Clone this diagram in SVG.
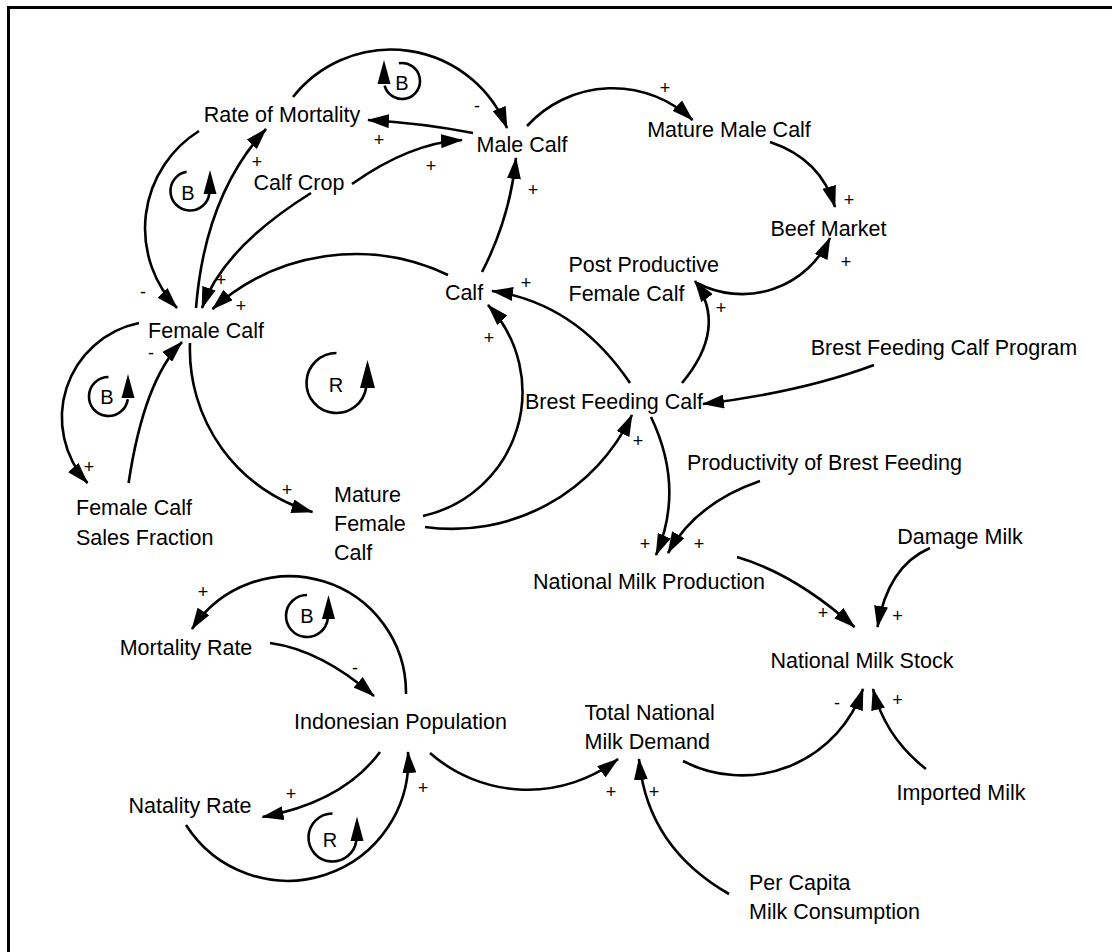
<svg xmlns="http://www.w3.org/2000/svg" width="1112" height="952" viewBox="0 0 1112 952">
<style>
.n{font-family:"Liberation Sans",Arial,sans-serif;font-size:21.5px;fill:#000}
.m{text-anchor:middle}
.p{font-family:"Liberation Sans",Arial,sans-serif;font-size:18px;fill:#000;text-anchor:middle}
.l{font-family:"Liberation Sans",Arial,sans-serif;font-size:20px;fill:#000;text-anchor:middle}
.c path{fill:none;stroke:#000;stroke-width:2.6;marker-end:url(#ah)}
.loop path{fill:none;stroke:#000;stroke-width:2.6}
.loop polygon{fill:#000}
</style>
<defs>
<marker id="ah" markerUnits="userSpaceOnUse" markerWidth="24" markerHeight="14" refX="21" refY="7" orient="auto">
<path d="M0,0 L22,7 L0,14 z" fill="#000"/>
</marker>
</defs>
<rect x="0" y="0" width="1112" height="952" fill="#fff"/>
<path d="M8.5,952 V7.5 H1112" fill="none" stroke="#000" stroke-width="3"/>

<g id="connectors" class="c">
<path d="M293,97 A125,125 0 0,1 507,128"/>
<path d="M473,133 Q421,123 368,120"/>
<path d="M352,184 Q410,143 462,140"/>
<path d="M527,126 A116,116 0 0,1 692.5,120"/>
<path d="M770,142 Q821,159 835,207"/>
<path d="M697,283 A97,97 0 0,0 830,238"/>
<path d="M682,383 Q728,328 695,281"/>
<path d="M874,365 Q802,392 703,404"/>
<path d="M630,383 Q576,303 492,291"/>
<path d="M423,516 A127,127 0 0,0 488,305"/>
<path d="M425,527 A199,199 0 0,0 632,415"/>
<path d="M482,272 Q510,218 516,158"/>
<path d="M448,275 A214,214 0 0,0 212.5,309"/>
<path d="M196,308 Q205,195 266,129"/>
<path d="M199,131 A115,115 0 0,0 177,308"/>
<path d="M311,193 Q223,248 202,308"/>
<path d="M139,323 A96.5,96.5 0 0,0 87.5,483"/>
<path d="M128.6,483 Q144,380 182,342"/>
<path d="M190,343 A169,169 0 0,0 312.5,512"/>
<path d="M651,417 Q685,488 656,555"/>
<path d="M760,481 Q696,503 668,553"/>
<path d="M737,557 Q795,574 854.5,627"/>
<path d="M930,548 Q888,566 877.5,627"/>
<path d="M683,761 A128,128 0 0,0 863,689"/>
<path d="M926,769 Q885,737 873,689"/>
<path d="M430,753 A148,148 0 0,0 618,759"/>
<path d="M729,894 Q647,847 639,759"/>
<path d="M406,694 A116.5,116.5 0 0,0 192,629"/>
<path d="M270,643 Q321,650 374,696"/>
<path d="M380,752 Q343,802 262.5,817"/>
<path d="M186,825 A120.6,120.6 0 0,0 408,752"/>
</g>

<g id="polarities">
<text class="p" x="477" y="112">-</text>
<text class="p" x="379" y="145.5">+</text>
<text class="p" x="431" y="171.5">+</text>
<text class="p" x="257" y="168">+</text>
<text class="p" x="665" y="93.5">+</text>
<text class="p" x="849" y="206">+</text>
<text class="p" x="846" y="268">+</text>
<text class="p" x="721" y="314">+</text>
<text class="p" x="526" y="289">+</text>
<text class="p" x="533" y="196">+</text>
<text class="p" x="489" y="344">+</text>
<text class="p" x="638" y="447">+</text>
<text class="p" x="143" y="298">-</text>
<text class="p" x="221" y="286">+</text>
<text class="p" x="241" y="311.5">+</text>
<text class="p" x="89" y="473">+</text>
<text class="p" x="151" y="359">-</text>
<text class="p" x="287" y="496">+</text>
<text class="p" x="645" y="550">+</text>
<text class="p" x="699" y="550">+</text>
<text class="p" x="823" y="619">+</text>
<text class="p" x="897.5" y="621.5">+</text>
<text class="p" x="837" y="709">-</text>
<text class="p" x="897.5" y="706">+</text>
<text class="p" x="611" y="798">+</text>
<text class="p" x="654" y="798">+</text>
<text class="p" x="203" y="598">+</text>
<text class="p" x="355" y="673.5">-</text>
<text class="p" x="291" y="800">+</text>
<text class="p" x="423" y="794">+</text>
</g>

<g id="loops" class="loop">
<g id="loop-b1"><path d="M398.9,63.3 A18,18 0 1,1 384.6,85.7"/><polygon points="384,60 377.5,84 390.5,84"/><text class="l" x="402" y="90">B</text></g>
<g id="loop-b2"><path d="M186.6,171.8 A19.5,19.5 0 1,0 209.3,193.7"/><polygon points="210,170 203.5,194 216.5,194"/><text class="l" x="188" y="200">B</text></g>
<g id="loop-b3"><path d="M108.5,377 A19.5,19.5 0 1,0 127.8,399.2"/><polygon points="128,374 121.5,398 134.5,398"/><text class="l" x="107" y="404">B</text></g>
<g id="loop-r1"><path d="M336.5,353 A30,30 0 1,0 366.2,387.2"/><polygon points="367.5,360 360,388 375,388"/><text class="l" x="336" y="392">R</text></g>
<g id="loop-b4"><path d="M307,595 A21,21 0 1,0 327.8,619"/><polygon points="328.5,595 322,619 335,619"/><text class="l" x="307" y="623">B</text></g>
<g id="loop-r2"><path d="M332.5,813.5 A24,24 0 1,0 356.3,840.8"/><polygon points="357,816.5 350.5,841 363.5,841"/><text class="l" x="330" y="846.5">R</text></g>
</g>

<g id="node-rate-of-mortality"><text class="n m" x="282" y="122">Rate of Mortality</text></g>
<g id="node-male-calf"><text class="n m" x="522" y="152">Male Calf</text></g>
<g id="node-calf-crop"><text class="n m" x="299" y="190">Calf Crop</text></g>
<g id="node-mature-male-calf"><text class="n m" x="729" y="137">Mature Male Calf</text></g>
<g id="node-beef-market"><text class="n m" x="828.5" y="236">Beef Market</text></g>
<g id="node-post-productive"><text class="n" x="568.5" y="272">Post Productive</text><text class="n" x="568.5" y="301">Female Calf</text></g>
<g id="node-calf"><text class="n m" x="464" y="300">Calf</text></g>
<g id="node-female-calf"><text class="n m" x="206" y="338">Female Calf</text></g>
<g id="node-sales-fraction"><text class="n" x="76" y="515">Female Calf</text><text class="n" x="76" y="545">Sales Fraction</text></g>
<g id="node-mature-female-calf"><text class="n" x="334" y="501.5">Mature</text><text class="n" x="334" y="531">Female</text><text class="n" x="334" y="560">Calf</text></g>
<g id="node-brest-feeding-calf"><text class="n m" x="614" y="409">Brest Feeding Calf</text></g>
<g id="node-bfc-program"><text class="n m" x="944" y="355">Brest Feeding Calf Program</text></g>
<g id="node-productivity"><text class="n m" x="824.5" y="470">Productivity of Brest Feeding</text></g>
<g id="node-milk-production"><text class="n m" x="649" y="589">National Milk Production</text></g>
<g id="node-damage-milk"><text class="n m" x="960" y="544">Damage Milk</text></g>
<g id="node-milk-stock"><text class="n m" x="862" y="668">National Milk Stock</text></g>
<g id="node-milk-demand"><text class="n" x="584.5" y="720">Total National</text><text class="n" x="584.5" y="749">Milk Demand</text></g>
<g id="node-imported-milk"><text class="n m" x="961" y="800">Imported Milk</text></g>
<g id="node-per-capita"><text class="n" x="749" y="890">Per Capita</text><text class="n" x="749" y="919">Milk Consumption</text></g>
<g id="node-mortality-rate"><text class="n m" x="186" y="655">Mortality Rate</text></g>
<g id="node-population"><text class="n m" x="400.5" y="729">Indonesian Population</text></g>
<g id="node-natality-rate"><text class="n m" x="190" y="813">Natality Rate</text></g>
</svg>
